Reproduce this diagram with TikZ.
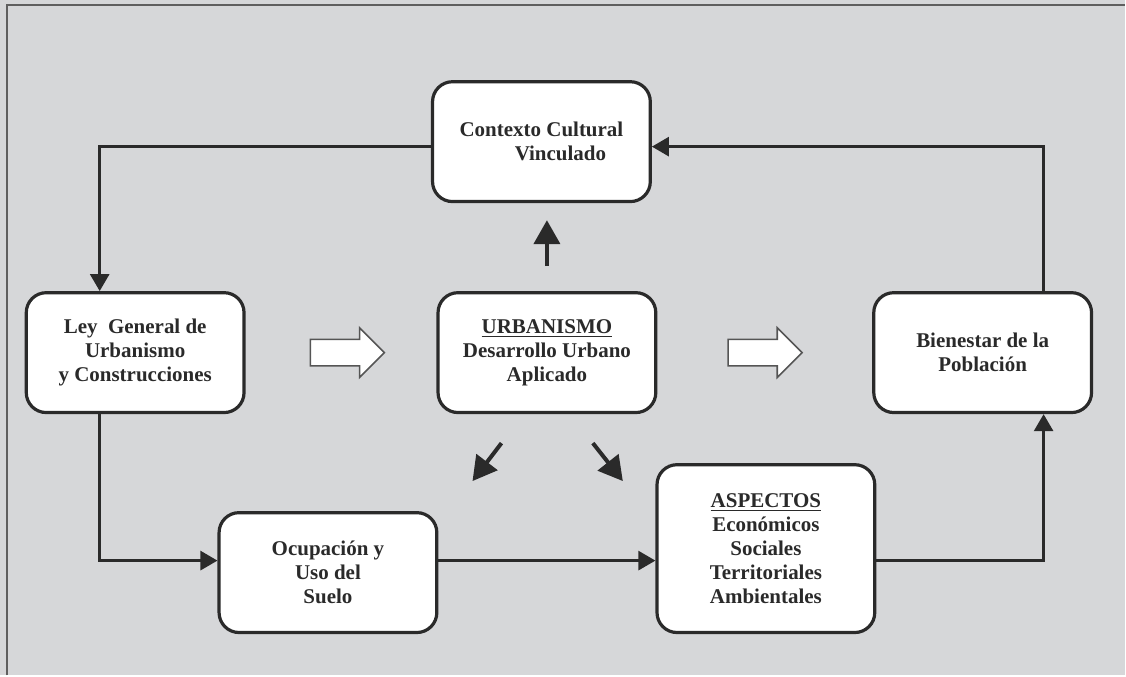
\documentclass[tikz,border=0pt]{standalone}
\usepackage{fontspec}
\setmainfont{Liberation Serif}
\usepackage{tikz}
\usetikzlibrary{positioning,shapes.arrows,arrows.meta}

\definecolor{bggray}{HTML}{D6D7D9}
\definecolor{ink}{HTML}{2A2A2A}

\begin{document}
\begin{tikzpicture}[x=0.5pt,y=-0.5pt,>={Triangle[width=9.5pt,length=8.5pt]},line width=1.4pt,draw=ink,
      main node/.style={rectangle,rounded corners=10pt,draw=ink,fill=white,line width=1.6pt,
        minimum width=109pt,minimum height=60pt,align=center,text=ink,
        font=\bfseries\fontsize{10.5}{12}\selectfont},
      block arrow/.style={single arrow,draw=ink!80,fill=white,line width=0.8pt,
        minimum height=37pt,inner xsep=0pt,inner ysep=6.25pt,single arrow head extend=5.75pt},
      big arrow/.style={-{Triangle[width=13pt,length=12pt]},line width=2pt}]
      % background and frame
      \fill[bggray] (0,0) rectangle (1126,676);
      \draw[ink!75,line width=1.2pt] (7,676) -- (7,5) -- (1126,5);

      \node[main node] (urb) at (547.5,353) {\underline{URBANISMO}\\Desarrollo Urbano\\Aplicado};
      \node[main node] (ctx) [above=44pt of urb,xshift=-2.75pt] {Contexto Cultural\\\hspace*{19pt}Vinculado};
      \node[main node] (ley) [left=95.5pt of urb] {Ley\ \ General de\\Urbanismo\\y Construcciones};
      \node[main node] (bien) [right=107.5pt of urb] {Bienestar de la\\Población};
      \node[main node] (ocup) [below left=48.5pt and -1pt of urb] {Ocupación y\\Uso del\\Suelo};
      \node[main node,minimum height=84pt] (asp) [below right=24.5pt and -1pt of urb]
        {\underline{ASPECTOS}\\Económicos\\Sociales\\Territoriales\\Ambientales};

      \node[block arrow] (arrl) [left=25.5pt of urb] {};
      \node[block arrow] (arrr) [right=35pt of urb] {};

      % cycle
      \draw[->] ([yshift=-2.5pt]ctx.west) -| ([xshift=-17.75pt]ley.north);
      \draw[->] ([xshift=-17.75pt]ley.south) |- ([yshift=6pt]ocup.west);
      \draw[->] ([yshift=6pt]ocup.east) -- ([yshift=6pt]ocup.east -| asp.west);
      \draw[->] ([yshift=-6pt]asp.east) -| ([xshift=30.5pt]bien.south);
      \draw[->] ([xshift=30.5pt]bien.north) |- ([yshift=-2.5pt]ctx.east);

      % arrows out of the centre
      \draw[big arrow] ([yshift=12.5pt]urb.north) -- ++(0,-46);
      \draw[big arrow] ([shift={(-45.5,29)}]urb.south) -- ++(-29,38);
      \draw[big arrow] ([shift={(46,29)}]urb.south) -- ++(30,38);
    \end{tikzpicture}
\end{document}
